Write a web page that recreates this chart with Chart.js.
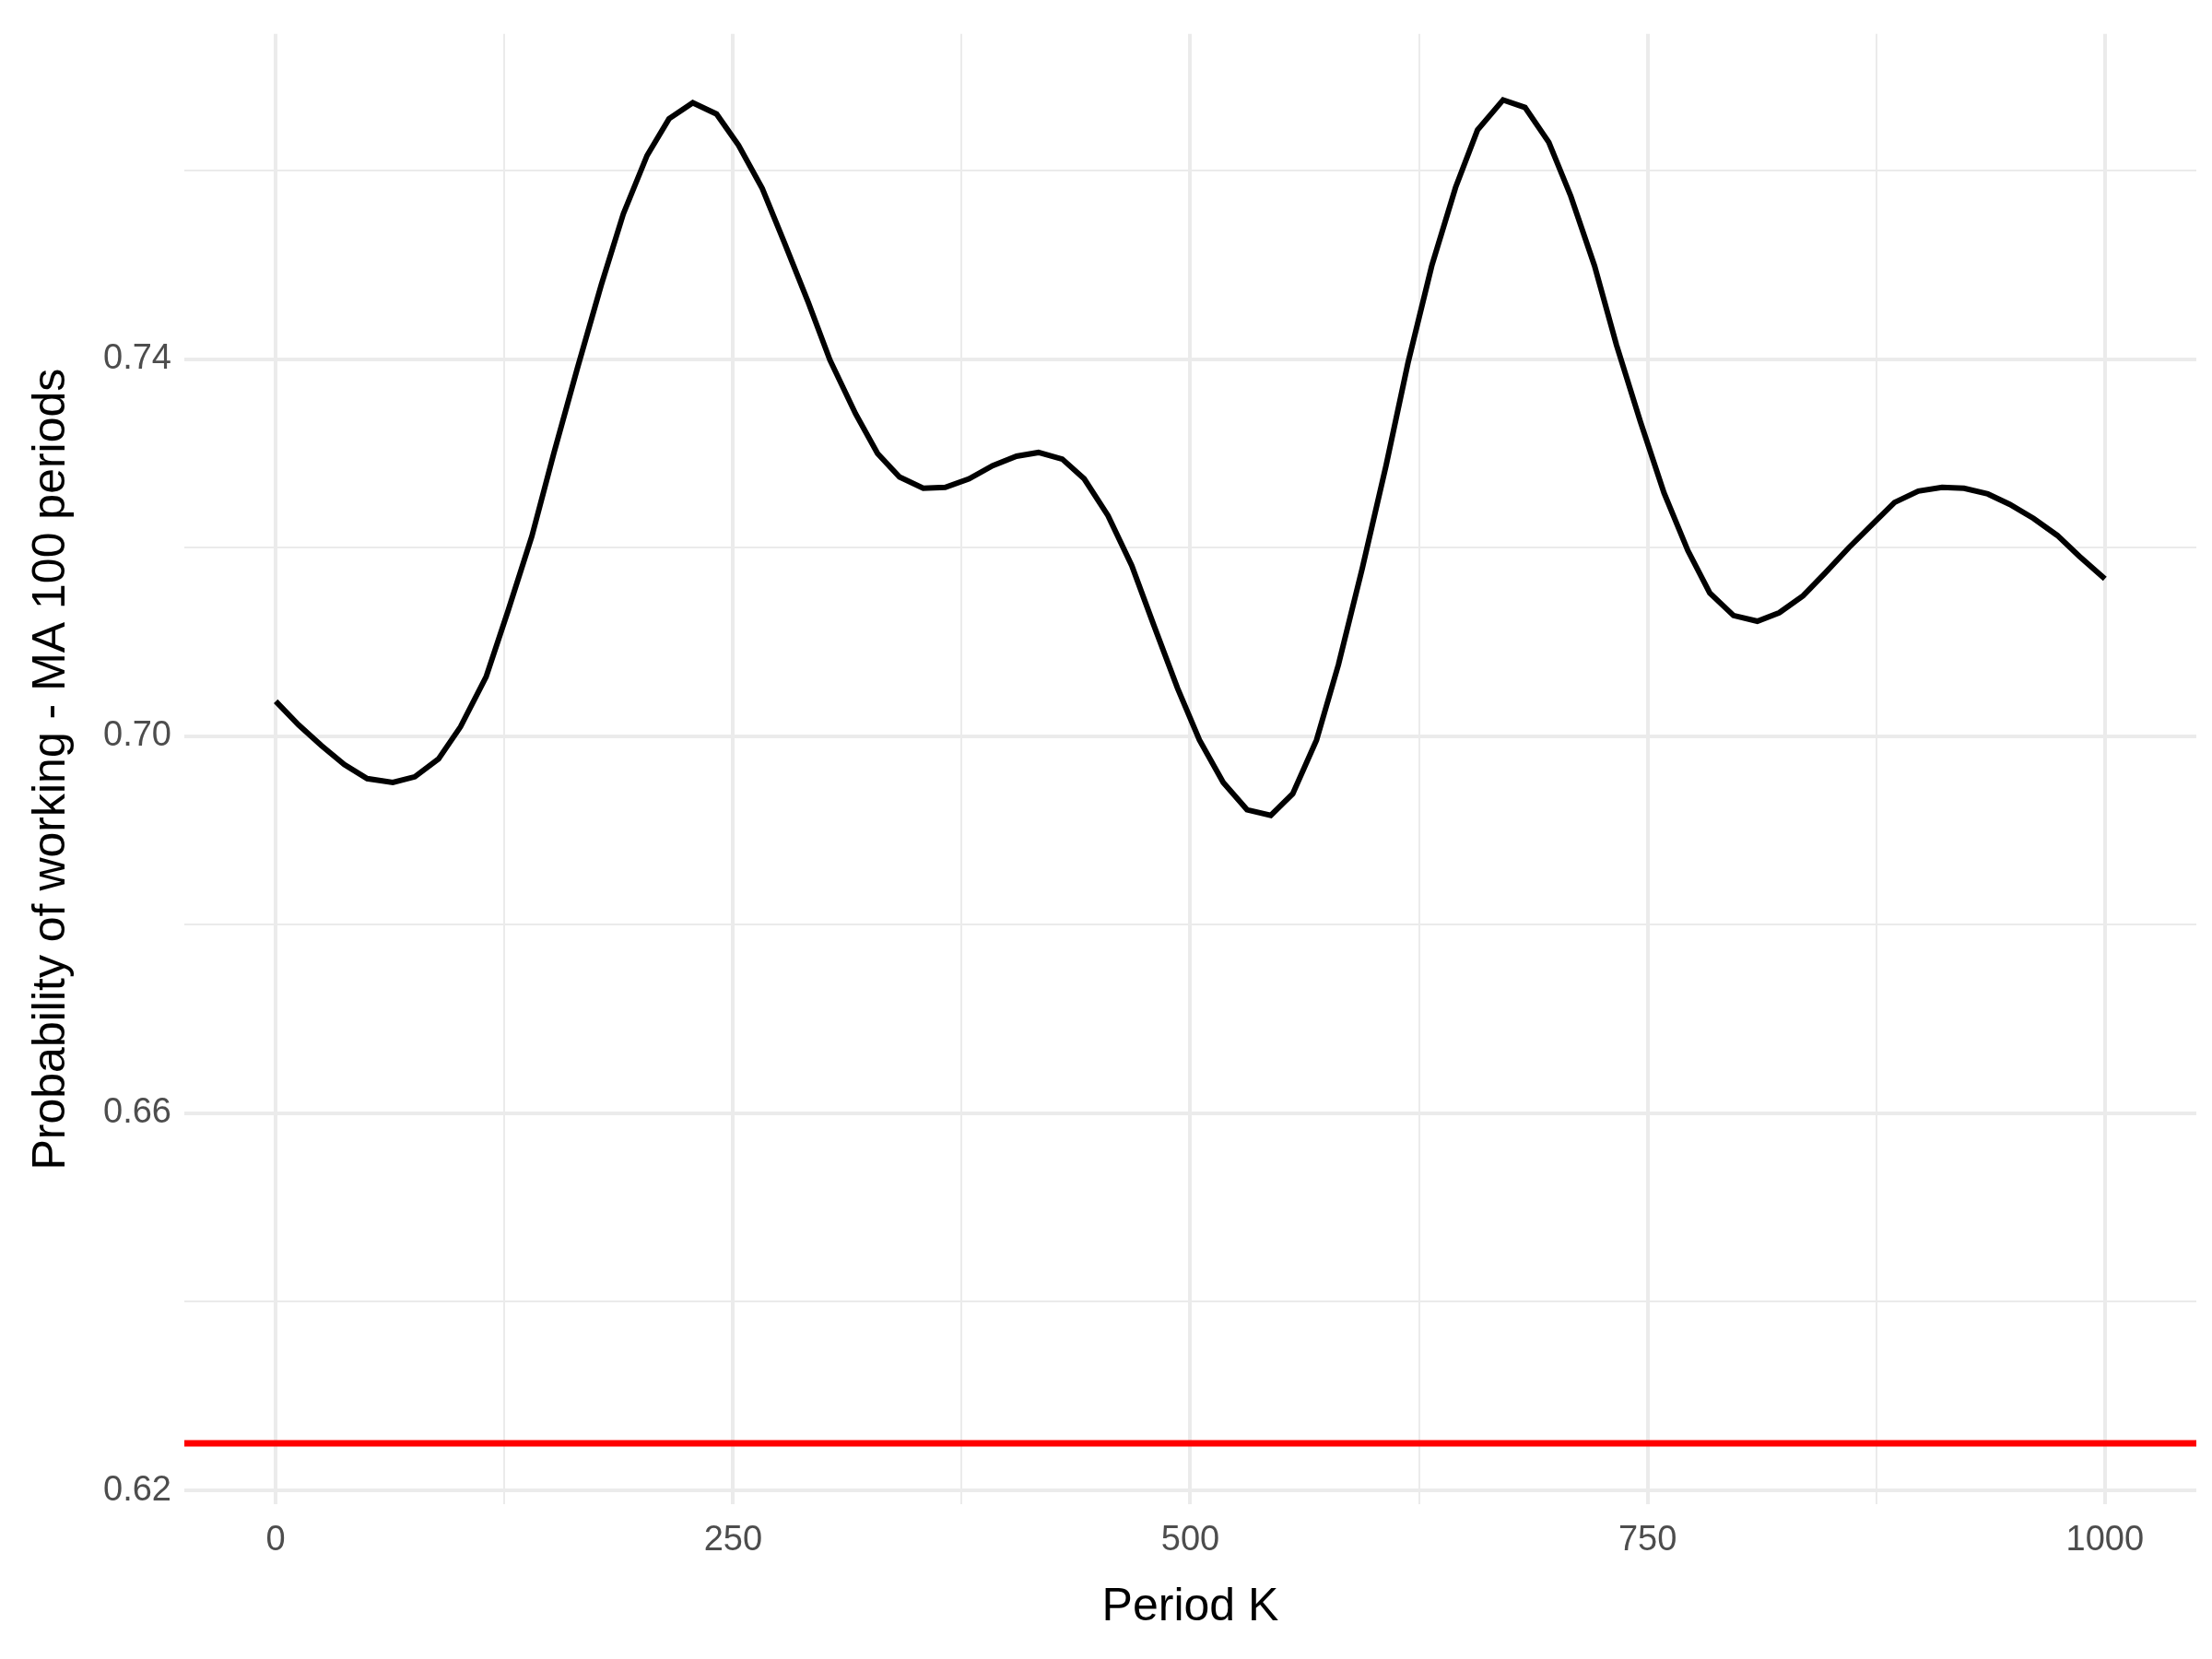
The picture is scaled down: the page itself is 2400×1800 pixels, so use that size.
<!DOCTYPE html>
<html>
<head>
<meta charset="utf-8">
<script src="https://cdn.jsdelivr.net/npm/chart.js@4/dist/chart.umd.min.js"></script>
<style>
  html, body { margin: 0; padding: 0; background: #fff; }
  canvas { display: block; }
</style>
</head>
<body>
<canvas id="myChart" width="2400" height="1800"></canvas>
<script>
const periods = [0, 12.5, 25, 37.5, 50, 64, 76, 89, 101, 115, 127, 140, 152, 165, 178, 190, 203, 215, 228, 241,
  253, 266, 278, 291, 303, 317, 329, 341, 354, 366, 379, 392, 405, 417, 430, 442, 455, 468, 480, 493,
  505, 518, 531, 544, 556, 569, 581, 594, 607, 619, 632, 645, 657, 671, 683, 696, 708, 721, 733, 746,
  759, 772, 784, 797, 810, 822, 835, 847, 860, 873, 885, 898, 911, 923, 936, 948, 961, 974, 986, 1000];
const probWorking = [0.7037, 0.7012, 0.699, 0.697, 0.6955, 0.6951, 0.6957, 0.6976, 0.701, 0.7063, 0.7133, 0.7212,
  0.730, 0.7391, 0.7479, 0.7554, 0.7616, 0.7655, 0.7672, 0.766, 0.7627, 0.7581, 0.7524, 0.7461, 0.7399,
  0.7342, 0.730, 0.7275, 0.7263, 0.7264, 0.7273, 0.7287, 0.7297, 0.7301, 0.7294, 0.7273, 0.7234, 0.7181,
  0.7118, 0.7051, 0.6996, 0.6951, 0.6922, 0.6916, 0.6939, 0.6996, 0.7076, 0.7178, 0.7287, 0.7396, 0.7499,
  0.7582, 0.7643, 0.7675, 0.7667, 0.763, 0.7573, 0.7499, 0.7415, 0.7334, 0.7258, 0.7197, 0.7152, 0.7128,
  0.7122, 0.7131, 0.7149, 0.7173, 0.72, 0.7225, 0.7248, 0.726, 0.7264, 0.7263, 0.7257, 0.7246, 0.7231,
  0.7213, 0.7191, 0.7167];
const refLevel = 0.625;
const xTickLabels = [0, 250, 500, 750, 1000];
const yTickLabels = [0.62, 0.66, 0.70, 0.74];

const isLabel = (v, list) => list.some(t => Math.abs(t - v) < 1e-6);

const ctx = document.getElementById('myChart').getContext('2d');
new Chart(ctx, {
  type: 'scatter',
  data: {
    datasets: [{
      data: periods.map((p, i) => ({ x: p, y: probWorking[i] })),
      showLine: true,
      borderColor: '#000',
      borderWidth: 6,
      pointRadius: 0,
      tension: 0
    }, {
      data: [{ x: -50, y: refLevel }, { x: 1050, y: refLevel }],
      showLine: true,
      borderColor: '#ff0000',
      borderWidth: 7,
      pointRadius: 0
    }]
  },
  options: {
    responsive: false,
    animation: false,
    devicePixelRatio: 1,
    layout: { padding: { top: 28, right: 17, left: 22, bottom: 22 } },
    plugins: { legend: { display: false }, tooltip: { enabled: false } },
    scales: {
      x: {
        type: 'linear', min: -50, max: 1050,
        afterBuildTicks: s => { s.ticks = [0,125,250,375,500,625,750,875,1000].map(v => ({ value: v })); },
        border: { display: false },
        grid: {
          color: '#ebebeb',
          lineWidth: c => isLabel(c.tick.value, xTickLabels) ? 4 : 2,
          drawTicks: false
        },
        ticks: {
          padding: 16,
          color: '#4d4d4d',
          font: { family: 'Liberation Sans, Arial', size: 38 },
          callback: v => isLabel(v, xTickLabels) ? String(v) : ''
        },
        title: {
          display: true, text: 'Period K', color: '#000',
          font: { family: 'Liberation Sans, Arial', size: 50 }, padding: { top: 4 }
        }
      },
      y: {
        min: 0.6185, max: 0.7745,
        afterBuildTicks: s => { s.ticks = [0.62,0.64,0.66,0.68,0.70,0.72,0.74,0.76].map(v => ({ value: v })); },
        border: { display: false },
        grid: {
          color: '#ebebeb',
          lineWidth: c => isLabel(c.tick.value, yTickLabels) ? 4 : 2,
          drawTicks: false
        },
        ticks: {
          padding: 14,
          color: '#4d4d4d',
          font: { family: 'Liberation Sans, Arial', size: 38 },
          callback: v => isLabel(v, yTickLabels) ? v.toFixed(2) : ''
        },
        title: {
          display: true, text: 'Probability of working - MA 100 periods', color: '#000',
          font: { family: 'Liberation Sans, Arial', size: 50 }, padding: { bottom: 12 }
        }
      }
    }
  }
});
</script>
</body>
</html>
